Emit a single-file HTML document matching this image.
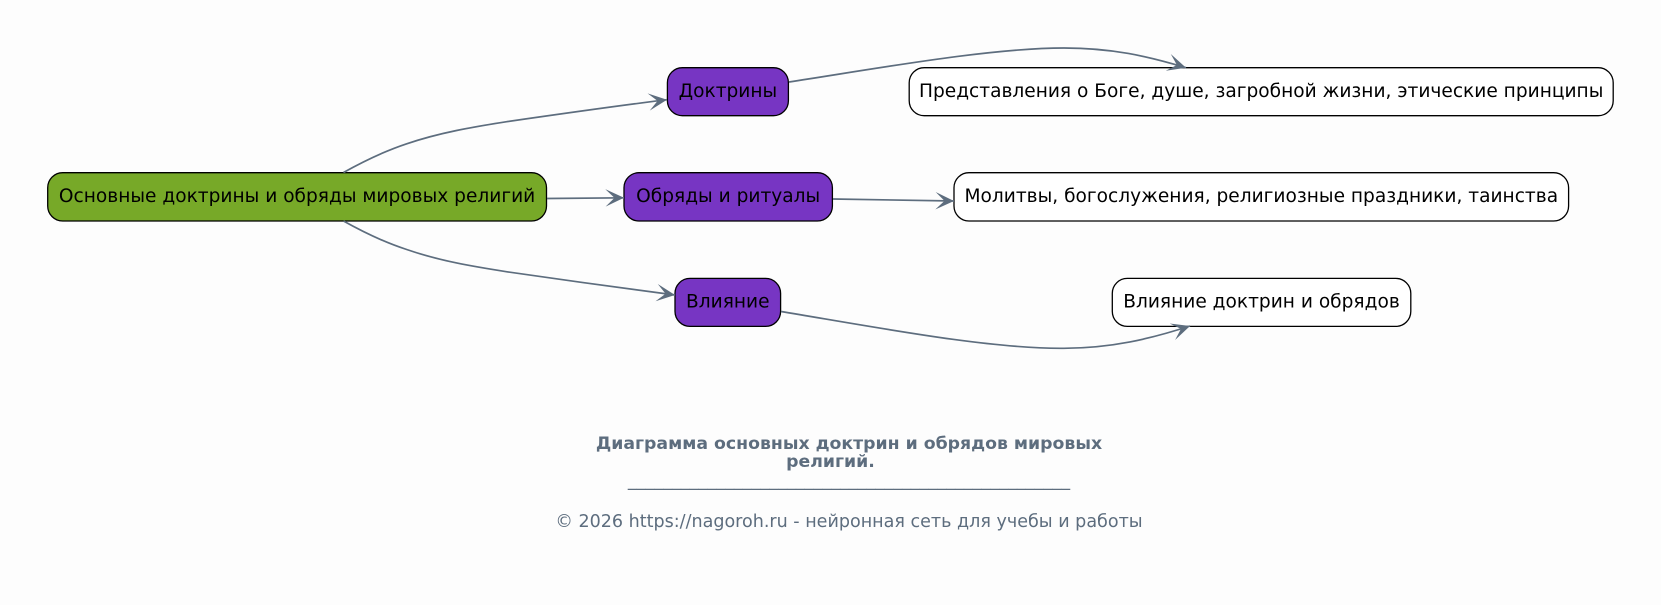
<!DOCTYPE html>
<html><head><meta charset="utf-8"><style>
html,body{margin:0;padding:0;background:#fdfdfd}
svg{display:block}
text{font-family:"DejaVu Sans","Liberation Sans",sans-serif}
.l{font-size:18.58px;fill:#000;text-anchor:middle;dominant-baseline:central}
.e{fill:none;stroke:#5d6d7e;stroke-width:1.7;marker-end:url(#a)}
.b{stroke:#000;stroke-width:1.3}
.f{fill:#5d6d7e;text-anchor:middle}
</style></head><body>
<svg width="1661" height="605" viewBox="0 0 1661 605" xmlns="http://www.w3.org/2000/svg">
<defs><marker id="a" markerUnits="userSpaceOnUse" markerWidth="20" markerHeight="20" refX="18.5" refY="10" orient="auto" viewBox="0 0 20 20"><path d="M0,1.3 L18.5,10 L0,18.7 L9,10 Z" fill="#5d6d7e"/></marker></defs>
<rect class="b" x="47.7" y="172.7" width="498.8" height="48.3" rx="15" fill="#77a928"/>
<rect class="b" x="667.4" y="67.7" width="121" height="48" rx="15" fill="#7735c3"/>
<rect class="b" x="624" y="172.7" width="208.4" height="48.3" rx="15" fill="#7735c3"/>
<rect class="b" x="675" y="278.4" width="105.6" height="48" rx="15" fill="#7735c3"/>
<rect class="b" x="909.2" y="67.7" width="704" height="48" rx="15" fill="#fff"/>
<rect class="b" x="954" y="172.7" width="614.6" height="48.3" rx="15" fill="#fff"/>
<rect class="b" x="1112.3" y="278.4" width="298.5" height="48" rx="15" fill="#fff"/>
<path class="e" d="M343.5,172.5 C365,160.5 385,151 406.7,143.8 C440,132.5 473,127 506.7,121.7 C560,114 620,105.5 667,99.7"/>
<path class="e" d="M547,198.5 L624,197.8"/>
<path class="e" d="M833,199 L954,201"/>
<path class="e" d="M343.5,221 C365,233 385,242.5 406.7,249.5 C440,261 473,266.5 507,271.8 C560,279.5 625,288.5 675,295"/>
<path class="e" d="M789,82 C880,68 990,48 1064,48 C1112,48 1147,56 1186,67.7"/>
<path class="e" d="M781,311.5 C880,328 990,349 1064,348.3 C1112,348 1150,339 1190,326"/>
<text class="l" x="297.1" y="196.6">Основные доктрины и обряды мировых религий</text>
<text class="l" x="727.9" y="91.6">Доктрины</text>
<text class="l" x="728.2" y="196.6">Обряды и ритуалы</text>
<text class="l" x="727.8" y="302.1">Влияние</text>
<text class="l" x="1261.2" y="91.6">Представления о Боге, душе, загробной жизни, этические принципы</text>
<text class="l" x="1261.3" y="196.6">Молитвы, богослужения, религиозные праздники, таинства</text>
<text class="l" x="1261.5" y="302.1">Влияние доктрин и обрядов</text>
<text class="f" x="849" y="449" font-size="17.3" font-weight="700">Диаграмма основных доктрин и обрядов мировых</text>
<text class="f" x="830.5" y="467" font-size="17.3" font-weight="700">религий.</text>
<text class="f" x="849" y="486" font-size="17.7">__________________________________________________</text>
<text class="f" x="849" y="527" font-size="17.55">© 2026 https://nagoroh.ru - нейронная сеть для учебы и работы</text>
</svg>
</body></html>
